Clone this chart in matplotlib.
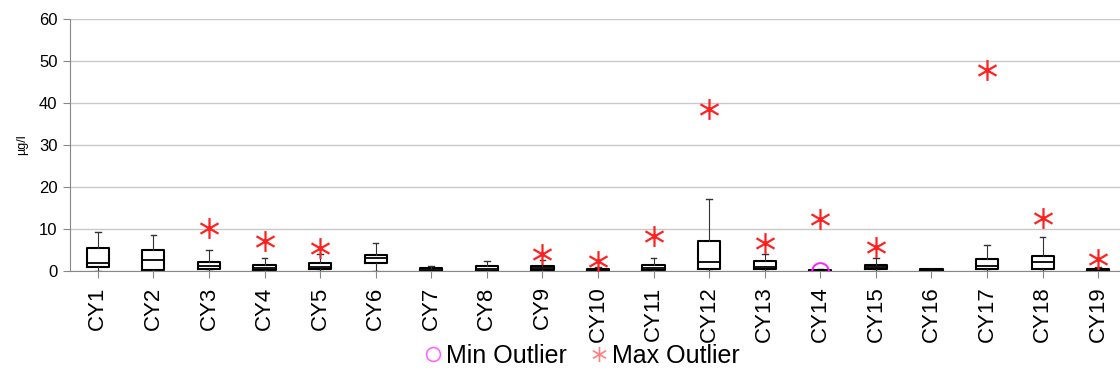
import numpy as np
import matplotlib
matplotlib.use('Agg')
from matplotlib import pyplot as plt
from matplotlib.lines import Line2D
from matplotlib.path import Path

plt.rcParams['font.family'] = ['Liberation Sans', 'DejaVu Sans']

# Dữ liệu
sites = ['CY%d' % i for i in range(1, 20)]
whis_lo = [0.0] * 19
q1 = [0.9, 0.2, 0.4, 0.3, 0.4, 2.0, 0.1, 0.1, 0.3, 0.1, 0.3, 0.4, 0.4, 0.1, 0.4, 0.05, 0.4, 0.4, 0.05]
median = [1.8, 2.6, 1.2, 0.8, 1.0, 3.1, 0.3, 0.4, 0.6, 0.2, 0.6, 2.1, 1.0, 0.2, 0.9, 0.2, 1.3, 2.2, 0.2]
q3 = [5.5, 5.0, 2.2, 1.4, 1.8, 3.9, 0.6, 1.3, 1.3, 0.5, 1.4, 7.1, 2.5, 0.3, 1.4, 0.4, 2.8, 3.6, 0.4]
whis_hi = [9.4, 8.6, 4.9, 3.2, 4.0, 6.7, 1.3, 2.4, 2.6, 1.0, 3.2, 17.1, 4.0, 0.4, 3.2, 0.5, 6.3, 8.0, 0.9]
max_outlier = [None, None, 10.3, 7.2, 5.5, None, None, None, 4.0, 2.4, 8.3, 38.6, 6.6, 12.3, 5.8, None, 47.9, 12.7, 2.9]
min_outlier = [None] * 13 + [0.0] + [None] * 5

stats = []
for i in range(len(sites)):
    stats.append(dict(whislo=whis_lo[i], q1=q1[i], med=median[i], q3=q3[i],
                      whishi=whis_hi[i], fliers=[], label=sites[i]))

# Dấu sao 6 cánh dạng nét mảnh
verts = []
codes = []
for ang in [90, 30, 150]:
    a = np.deg2rad(ang)
    verts += [(np.cos(a), np.sin(a)), (-np.cos(a), -np.sin(a))]
    codes += [Path.MOVETO, Path.LINETO]
star = Path(verts, codes)

fig = plt.figure(figsize=(11.2, 3.76), dpi=100)
ax = fig.add_axes([70 / 1120, 105 / 376, 1056 / 1120, 252 / 376])

pos = np.arange(len(sites))
ax.bxp(stats, positions=pos, widths=0.4, capwidths=0.1, showfliers=False,
       boxprops=dict(color='black', linewidth=1.5),
       medianprops=dict(color='black', linewidth=1.3),
       whiskerprops=dict(color='#333333', linewidth=0.8),
       capprops=dict(color='#333333', linewidth=1.0))

# Ngoại lai
mx = [(p, v) for p, v in zip(pos, max_outlier) if v is not None]
ax.plot([a for a, b in mx], [b for a, b in mx], linestyle='none',
        marker=star, markersize=15, markeredgewidth=1.6,
        markerfacecolor='none', markeredgecolor='#ff2020', zorder=5)
mn = [(p, v) for p, v in zip(pos, min_outlier) if v is not None]
ax.plot([a for a, b in mn], [b for a, b in mn], linestyle='none',
        marker='o', markersize=12, markerfacecolor='none',
        markeredgecolor='#ff20ff', markeredgewidth=1.4, zorder=5)

ax.set_xlim(-0.5, len(sites) - 0.5)
ax.set_ylim(0, 60)
ax.set_yticks(np.arange(0, 61, 10))
ax.set_xticks(pos)
ax.set_xticklabels(sites, rotation=90, fontsize=16)
ax.tick_params(axis='y', labelsize=12, length=5, color='#888888', pad=4)
ax.tick_params(axis='x', length=5, color='#888888', pad=6)
ax.grid(axis='y', color='#c8c8c8', linewidth=1.0)
ax.set_axisbelow(True)
for s in ['top', 'right']:
    ax.spines[s].set_visible(False)
for s in ['left', 'bottom']:
    ax.spines[s].set_color('#888888')
ax.set_ylabel('µg/l', fontsize=9, labelpad=8)

handles = [
    Line2D([], [], linestyle='none', marker='o', markersize=10,
           markerfacecolor='none', markeredgecolor='#ff66ff', markeredgewidth=1.2),
    Line2D([], [], linestyle='none', marker=star, markersize=11,
           markerfacecolor='none', markeredgewidth=1.2, markeredgecolor='#ff8080'),
]
fig.legend(handles, ['Min Outlier', 'Max Outlier'], loc='center',
           bbox_to_anchor=(580 / 1120, 1 - 356 / 376), ncol=2, frameon=False,
           fontsize=18, handletextpad=0.0, columnspacing=0.8, handlelength=1.0)

fig.savefig('out.png', dpi=100)
